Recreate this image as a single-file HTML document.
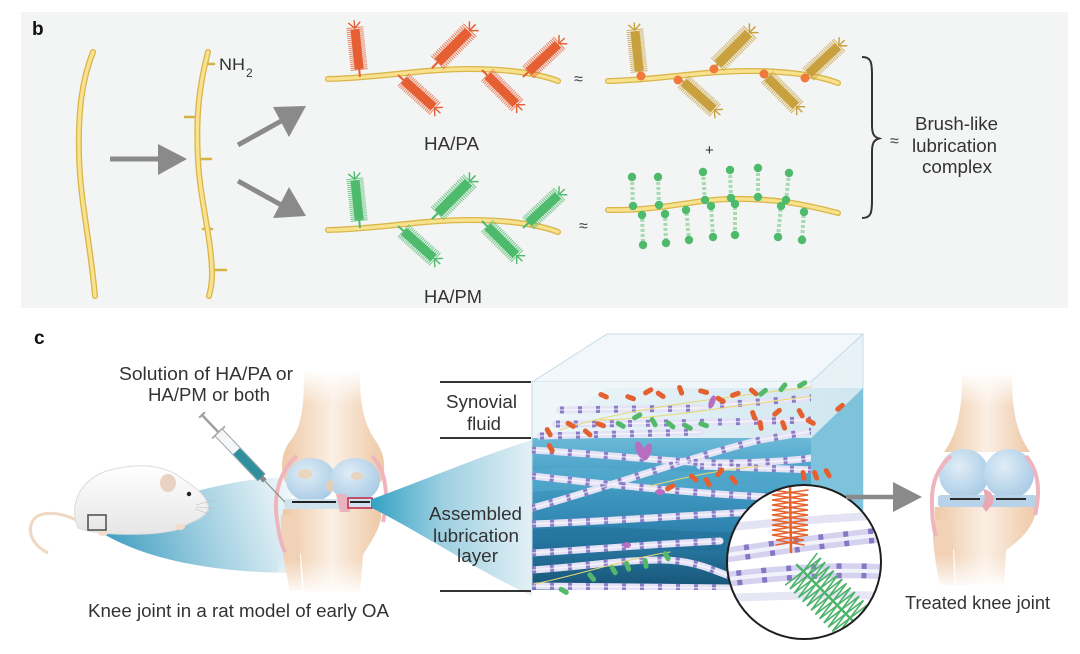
<!DOCTYPE html>
<html><head><meta charset="utf-8"><style>html,body{margin:0;padding:0;background:#fff}svg{display:block}</style></head>
<body>
<svg width="1080" height="654" viewBox="0 0 1080 654" xmlns="http://www.w3.org/2000/svg" font-family="'Liberation Sans', Arial, sans-serif">
<defs>
  <linearGradient id="water" x1="0" y1="0" x2="0" y2="1">
    <stop offset="0" stop-color="#6cb9d7"/><stop offset="0.25" stop-color="#469fc7"/>
    <stop offset="0.65" stop-color="#2b80ab"/><stop offset="1" stop-color="#175276"/>
  </linearGradient>
  <linearGradient id="plane" x1="0" y1="0" x2="1" y2="0">
    <stop offset="0" stop-color="#eef6f9"/><stop offset="1" stop-color="#cfe6ef"/>
  </linearGradient>
  <linearGradient id="funR" x1="372" y1="0" x2="532" y2="0" gradientUnits="userSpaceOnUse">
    <stop offset="0" stop-color="#35a2c4"/><stop offset="0.45" stop-color="#9fd0e2"/><stop offset="1" stop-color="#e2f0f5"/>
  </linearGradient>
  <linearGradient id="funL" x1="110" y1="560" x2="290" y2="500" gradientUnits="userSpaceOnUse">
    <stop offset="0" stop-color="#3f9dc0"/><stop offset="0.5" stop-color="#9ccde0"/><stop offset="1" stop-color="#eef6f9"/>
  </linearGradient>
  <linearGradient id="bone" x1="0" y1="0" x2="1" y2="0">
    <stop offset="0" stop-color="#eec9a6"/><stop offset="0.5" stop-color="#fbefe4"/><stop offset="1" stop-color="#eec9a6"/>
  </linearGradient>
  <linearGradient id="fadeT" x1="0" y1="0" x2="0" y2="1">
    <stop offset="0" stop-color="#fff" stop-opacity="1"/><stop offset="1" stop-color="#fff" stop-opacity="0"/>
  </linearGradient>
  <linearGradient id="fadeB" x1="0" y1="0" x2="0" y2="1">
    <stop offset="0" stop-color="#fff" stop-opacity="0"/><stop offset="1" stop-color="#fff" stop-opacity="1"/>
  </linearGradient>
  <radialGradient id="cart" cx="0.4" cy="0.35" r="0.7">
    <stop offset="0" stop-color="#e0edf7"/><stop offset="1" stop-color="#a6c9e4"/>
  </radialGradient>
  <linearGradient id="ratg" x1="0" y1="0" x2="0" y2="1">
    <stop offset="0" stop-color="#ffffff"/><stop offset="1" stop-color="#e6e6e6"/>
  </linearGradient>
  <clipPath id="front"><rect x="532" y="382" width="279" height="208"/></clipPath>
  <clipPath id="circ"><circle cx="804" cy="562" r="77"/></clipPath>

  <g id="brush">
    <line x1="0" y1="0" x2="0" y2="-8" stroke-width="2"/>
    <line x1="0" y1="-7" x2="0" y2="-50" stroke-width="17" stroke-dasharray="1 1" opacity="0.75"/>
    <line x1="0" y1="-8" x2="0" y2="-48" stroke-width="9"/>
    <path d="M-6,-55 L0,-49 L6,-55 M0,-49 L0,-57" stroke-width="1.4" fill="none"/>
  </g>
  <path id="chainPA" d="M328,79 C380,78 420,69 470,69 C510,69 540,74 558,81"/>

  <path id="f1" d="M560,410 L702,408"/>
  <path id="f2" d="M720,405 L860,394"/>
  <path id="f3" d="M556,424 C650,424 760,421 862,419"/>
  <path id="f4" d="M540,436 L700,432"/>
  <path id="f5" d="M532,450 C600,454 680,463 720,463 C760,463 800,460 811,458"/>
  <path id="f6" d="M532,508 C600,490 680,460 760,440 L830,428"/>
  <path id="f7" d="M532,476 C600,484 700,494 770,497 L840,499"/>
  <path id="f8" d="M700,466 L815,470"/>
  <path id="f9" d="M532,524 C620,521 700,514 760,512"/>
  <path id="f10" d="M532,553 C600,549 640,545 720,541"/>
  <path id="f11" d="M532,570 C590,566 620,560 660,560 C700,560 720,574 740,580"/>
  <path id="f12" d="M532,586 L730,588"/>
</defs>

<rect width="1080" height="654" fill="#fff"/>

<!-- ========== Panel b ========== -->
<rect x="21" y="12" width="1047" height="296" fill="#f3f4f4"/>
<text x="32" y="35" font-size="19" font-weight="bold" fill="#111">b</text>

<g fill="none" stroke-linecap="round">
  <path d="M93,52 C82,80 78,110 79,155 C80,200 90,240 95,296" stroke="#d9b64a" stroke-width="6"/>
  <path d="M93,52 C82,80 78,110 79,155 C80,200 90,240 95,296" stroke="#f8e28e" stroke-width="3.4"/>
  <g stroke="#d4b244" stroke-width="2.5">
    <line x1="204" y1="64" x2="214" y2="64"/>
    <line x1="185" y1="117" x2="198" y2="117"/>
    <line x1="199" y1="159" x2="211" y2="159"/>
    <line x1="203" y1="229" x2="212" y2="229"/>
    <line x1="211" y1="270" x2="226" y2="270"/>
  </g>
  <path d="M208,52 C198,90 196,120 198,160 C200,200 212,240 212,275 C212,285 210,292 209,296" stroke="#d9b64a" stroke-width="6"/>
  <path d="M208,52 C198,90 196,120 198,160 C200,200 212,240 212,275 C212,285 210,292 209,296" stroke="#f8e28e" stroke-width="3.4"/>
</g>
<text x="219" y="70" font-size="17" fill="#333" textLength="26" lengthAdjust="spacingAndGlyphs">NH</text>
<text x="246" y="77" font-size="12" fill="#333">2</text>

<g fill="#8a8a8a" stroke="#8a8a8a">
  <line x1="110" y1="159" x2="162" y2="159" stroke-width="5"/>
  <polygon points="158,144 187,159 158,175" stroke="none"/>
  <line x1="238" y1="145" x2="283" y2="120" stroke-width="5"/>
  <polygon points="273,107 306,106 289,137" stroke="none"/>
  <line x1="238" y1="181" x2="283" y2="206" stroke-width="5"/>
  <polygon points="273,218 306,216 289,187" stroke="none"/>
</g>

<!-- HA/PA chain -->
<g fill="none" stroke-linecap="round">
  <use href="#chainPA" stroke="#d9b64a" stroke-width="6"/>
  <use href="#chainPA" stroke="#f8e28e" stroke-width="3.4"/>
</g>
<g stroke="#e65f33">
  <use href="#brush" transform="translate(360,77) rotate(-6)"/>
  <use href="#brush" transform="translate(398,75) rotate(132)"/>
  <use href="#brush" transform="translate(432,68) rotate(45) scale(1.08)"/>
  <use href="#brush" transform="translate(482,70) rotate(135)"/>
  <use href="#brush" transform="translate(523,77) rotate(47)"/>
</g>
<text x="424" y="150" font-size="18" fill="#333" textLength="55" lengthAdjust="spacingAndGlyphs">HA/PA</text>

<!-- HA/PM chain -->
<g transform="translate(0,151)">
  <g fill="none" stroke-linecap="round">
    <use href="#chainPA" stroke="#d9b64a" stroke-width="6"/>
    <use href="#chainPA" stroke="#f8e28e" stroke-width="3.4"/>
  </g>
  <g stroke="#4dba6c">
    <use href="#brush" transform="translate(360,77) rotate(-6)"/>
    <use href="#brush" transform="translate(398,75) rotate(132)"/>
    <use href="#brush" transform="translate(432,68) rotate(45) scale(1.08)"/>
    <use href="#brush" transform="translate(482,70) rotate(135)"/>
    <use href="#brush" transform="translate(523,77) rotate(47)"/>
  </g>
</g>
<text x="424" y="303" font-size="18" fill="#333" textLength="58" lengthAdjust="spacingAndGlyphs">HA/PM</text>

<text x="574" y="84" font-size="16" fill="#444">≈</text>
<text x="579" y="231" font-size="16" fill="#444">≈</text>
<text x="705" y="155" font-size="15" fill="#333">+</text>

<!-- golden chain -->
<g transform="translate(280,2)">
  <g fill="none" stroke-linecap="round">
    <use href="#chainPA" stroke="#d9b64a" stroke-width="6"/>
    <use href="#chainPA" stroke="#f8e28e" stroke-width="3.4"/>
  </g>
  <g stroke="#c8a03e">
    <use href="#brush" transform="translate(360,77) rotate(-6)"/>
    <use href="#brush" transform="translate(398,75) rotate(132)"/>
    <use href="#brush" transform="translate(432,68) rotate(45) scale(1.08)"/>
    <use href="#brush" transform="translate(482,70) rotate(135)"/>
    <use href="#brush" transform="translate(523,77) rotate(47)"/>
  </g>
  <g fill="#f07a3c">
    <circle cx="361" cy="74" r="4.5"/><circle cx="398" cy="78" r="4.5"/>
    <circle cx="434" cy="67" r="4.5"/><circle cx="484" cy="72" r="4.5"/><circle cx="525" cy="76" r="4.5"/>
  </g>
</g>

<!-- dumbbell chain -->
<g fill="none" stroke-linecap="round">
  <path d="M608,210 C660,211 690,200 730,199 C780,198 810,206 838,213" stroke="#d9b64a" stroke-width="6"/>
  <path d="M608,210 C660,211 690,200 730,199 C780,198 810,206 838,213" stroke="#f8e28e" stroke-width="3.4"/>
</g>
<g stroke="#a6dbb2" stroke-width="4" stroke-dasharray="3 2">
  <line x1="632" y1="177" x2="633" y2="207"/><line x1="658" y1="177" x2="659" y2="206"/>
  <line x1="703" y1="172" x2="705" y2="201"/><line x1="730" y1="170" x2="731" y2="199"/>
  <line x1="758" y1="168" x2="758" y2="198"/><line x1="789" y1="173" x2="786" y2="201"/>
  <line x1="642" y1="214" x2="643" y2="245"/><line x1="665" y1="213" x2="666" y2="243"/>
  <line x1="686" y1="208" x2="689" y2="240"/><line x1="711" y1="204" x2="713" y2="237"/>
  <line x1="735" y1="202" x2="735" y2="235"/><line x1="781" y1="204" x2="778" y2="237"/>
  <line x1="804" y1="210" x2="802" y2="240"/>
</g>
<g fill="#4dba6c">
  <circle cx="632" cy="177" r="4.2"/><circle cx="633" cy="206" r="4.2"/>
  <circle cx="658" cy="177" r="4.2"/><circle cx="659" cy="205" r="4.2"/>
  <circle cx="703" cy="172" r="4.2"/><circle cx="705" cy="200" r="4.2"/>
  <circle cx="730" cy="170" r="4.2"/><circle cx="731" cy="198" r="4.2"/>
  <circle cx="758" cy="168" r="4.2"/><circle cx="758" cy="197" r="4.2"/>
  <circle cx="789" cy="173" r="4.2"/><circle cx="786" cy="200" r="4.2"/>
  <circle cx="642" cy="215" r="4.2"/><circle cx="643" cy="245" r="4.2"/>
  <circle cx="665" cy="214" r="4.2"/><circle cx="666" cy="243" r="4.2"/>
  <circle cx="686" cy="210" r="4.2"/><circle cx="689" cy="240" r="4.2"/>
  <circle cx="711" cy="206" r="4.2"/><circle cx="713" cy="237" r="4.2"/>
  <circle cx="735" cy="204" r="4.2"/><circle cx="735" cy="235" r="4.2"/>
  <circle cx="781" cy="206" r="4.2"/><circle cx="778" cy="237" r="4.2"/>
  <circle cx="804" cy="212" r="4.2"/><circle cx="802" cy="240" r="4.2"/>
</g>

<path d="M862,57 C871,57 872,62 872,75 L872,125 C872,134 874,137 879,138.5 C874,140 872,143 872,152 L872,200 C872,213 871,218 862,218" fill="none" stroke="#333" stroke-width="2"/>
<text x="890" y="146" font-size="16" fill="#444">≈</text>
<text x="915" y="130" font-size="18" fill="#333" textLength="83" lengthAdjust="spacingAndGlyphs">Brush-like</text>
<text x="912" y="152" font-size="18" fill="#333" textLength="85" lengthAdjust="spacingAndGlyphs">lubrication</text>
<text x="922" y="173" font-size="18" fill="#333" textLength="70" lengthAdjust="spacingAndGlyphs">complex</text>

<!-- ========== Panel c ========== -->
<path d="M100,532 C140,556 200,572 292,573 L292,478 C240,474 170,500 100,516 Z" fill="url(#funL)"/>

<!-- rat -->
<path d="M80,522 C60,511 38,510 32,522 C27,534 34,546 48,553" fill="none" stroke="#f0d8c2" stroke-width="3"/>
<path d="M78,528 C68,505 80,478 110,470 C140,462 165,466 180,477 C194,486 206,495 208,505 C210,512 202,518 192,522 L176,530 C150,536 100,536 78,528 Z" fill="url(#ratg)" stroke="#dcdcdc" stroke-width="1"/>
<ellipse cx="168" cy="483" rx="8" ry="9" fill="#ead2c2"/>
<circle cx="189" cy="494" r="2.2" fill="#222"/>
<g stroke="#bbb" stroke-width="0.6">
  <line x1="196" y1="505" x2="214" y2="500"/><line x1="196" y1="507" x2="215" y2="508"/><line x1="195" y1="509" x2="212" y2="515"/>
</g>
<g fill="#f1dccd">
  <ellipse cx="180" cy="527" rx="5" ry="3"/><ellipse cx="103" cy="533" rx="5" ry="3"/>
</g>
<rect x="88" y="515" width="18" height="15" fill="none" stroke="#555" stroke-width="1.6"/>

<!-- left knee -->
<path d="M304,372 L360,372 C360,400 362,420 375,440 C386,455 386,470 381,482 L285,482 C280,468 281,452 291,440 C303,425 304,400 304,372 Z" fill="url(#bone)"/>
<rect x="290" y="370" width="90" height="35" fill="url(#fadeT)"/>
<path d="M283,509 L381,509 C383,526 372,540 363,555 L360,592 L304,592 L301,555 C290,540 281,526 283,509 Z" fill="url(#bone)"/>
<path d="M281,515 C280,540 284,565 290,590 L302,590 C300,565 300,540 298,515 Z" fill="#f1d2b6"/>
<rect x="278" y="560" width="110" height="36" fill="url(#fadeB)"/>
<ellipse cx="311" cy="480" rx="25" ry="22" fill="url(#cart)"/>
<ellipse cx="355" cy="480" rx="25" ry="22" fill="url(#cart)"/>
<g fill="#f0cfae" opacity="0.75">
  <ellipse cx="305" cy="474" rx="7" ry="5"/><ellipse cx="330" cy="486" rx="4" ry="6"/><ellipse cx="357" cy="476" rx="6" ry="4"/>
</g>
<rect x="284" y="499" width="96" height="10" rx="3" fill="#cfe2ee"/>
<line x1="292" y1="502" x2="336" y2="502" stroke="#222" stroke-width="2"/>
<line x1="350" y1="502" x2="370" y2="502" stroke="#222" stroke-width="2"/>
<path d="M336,494 L346,494 L350,512 L340,512 Z" fill="#eab2bc"/>
<path d="M297,456 C280,470 273,495 277,520 C279,536 282,546 285,552" fill="none" stroke="#efb5bf" stroke-width="4"/>
<path d="M372,456 C386,470 389,495 383,522" fill="none" stroke="#efb5bf" stroke-width="4"/>
<rect x="348" y="498" width="24" height="10" fill="none" stroke="#c8304c" stroke-width="1.6"/>

<!-- syringe -->
<g transform="translate(202,415) rotate(46.4)">
  <line x1="0" y1="0" x2="24" y2="0" stroke="#a0a0a0" stroke-width="2.5"/>
  <line x1="0" y1="-4" x2="0" y2="4" stroke="#a0a0a0" stroke-width="2"/>
  <line x1="24" y1="-9" x2="24" y2="9" stroke="#b0b0b0" stroke-width="2"/>
  <rect x="24" y="-5" width="62" height="10" fill="#f4f6f7" stroke="#9aa3a8" stroke-width="1"/>
  <rect x="50" y="-4.5" width="36" height="9" fill="#2f8f9c"/>
  <rect x="86" y="-2.5" width="5" height="5" fill="#888"/>
  <line x1="91" y1="0" x2="120" y2="0" stroke="#888" stroke-width="1.1"/>
</g>

<!-- right funnel -->
<path d="M372,499 C420,482 480,456 532,440 L532,596 C480,572 420,532 372,508 Z" fill="url(#funR)"/>

<g stroke="#333" stroke-width="2">
  <line x1="440" y1="382" x2="531" y2="382"/>
  <line x1="440" y1="438" x2="531" y2="438"/>
  <line x1="440" y1="591" x2="531" y2="591"/>
</g>

<!-- 3D box -->
<polygon points="532,382 607,334 863,334 811,382" fill="#f1f7fa" stroke="#c6dce7" stroke-width="1"/>
<polygon points="811,382 863,334 863,545 811,590" fill="#e8f2f6" stroke="#c6dce7" stroke-width="1"/>
<polygon points="811,438 863,388 863,545 811,590" fill="#7fc2db"/>
<rect x="532" y="382" width="279" height="56" fill="#eef6f9"/>
<rect x="532" y="438" width="279" height="152" fill="url(#water)"/>
<g clip-path="url(#front)">
  <path d="M532,470 C600,462 680,478 811,470 L811,490 C700,498 620,484 532,492 Z" fill="#5aaed0" opacity="0.5"/>
  <path d="M532,530 C620,520 700,540 811,528 L811,548 C700,556 620,542 532,552 Z" fill="#1f6a93" opacity="0.45"/>
</g>
<polygon points="532,438 607,388 863,388 811,438" fill="url(#plane)"/>
<line x1="532" y1="382" x2="532" y2="590" stroke="#c6dce7" stroke-width="1"/>

<g fill="none" stroke-linecap="round" clip-path="url(#front)">
  <g stroke="#e4e3f6" stroke-width="7">
    <use href="#f1"/><use href="#f2"/><use href="#f3"/><use href="#f4"/><use href="#f5"/><use href="#f6"/>
    <use href="#f7"/><use href="#f8"/><use href="#f9"/><use href="#f10"/><use href="#f11"/><use href="#f12"/>
  </g>
  <g stroke="#8a7cc6" stroke-width="7" stroke-dasharray="4 14" stroke-linecap="butt">
    <use href="#f1"/><use href="#f2"/><use href="#f3"/><use href="#f4"/><use href="#f5"/><use href="#f6"/>
    <use href="#f7"/><use href="#f8"/><use href="#f9"/><use href="#f10"/><use href="#f11"/><use href="#f12"/>
  </g>
  <g stroke="#ffffff" stroke-width="1.5" opacity="0.6">
    <use href="#f1"/><use href="#f2"/><use href="#f3"/><use href="#f4"/><use href="#f5"/><use href="#f6"/>
    <use href="#f7"/><use href="#f8"/><use href="#f9"/><use href="#f10"/><use href="#f11"/><use href="#f12"/>
  </g>
  <g stroke="#e8d870" stroke-width="1">
    <path d="M560,430 C620,410 700,400 820,386"/>
    <path d="M600,420 C680,418 760,400 830,395"/>
    <path d="M650,486 C690,476 720,470 760,466"/>
    <path d="M534,584 C580,575 620,560 670,552"/>
  </g>
</g>
<g fill="#e4602e">
  <rect x="598" y="393" width="11" height="5" rx="2.5" transform="rotate(25 603 396)"/>
  <rect x="625" y="395" width="11" height="5" rx="2.5" transform="rotate(20 630 398)"/>
  <rect x="643" y="389" width="11" height="5" rx="2.5" transform="rotate(-30 648 392)"/>
  <rect x="655" y="392" width="11" height="5" rx="2.5" transform="rotate(35 660 395)"/>
  <rect x="675" y="387" width="11" height="5" rx="2.5" transform="rotate(70 680 390)"/>
  <rect x="698" y="389" width="11" height="5" rx="2.5" transform="rotate(15 703 392)"/>
  <rect x="715" y="397" width="11" height="5" rx="2.5" transform="rotate(30 720 400)"/>
  <rect x="730" y="392" width="11" height="5" rx="2.5" transform="rotate(-20 735 395)"/>
  <rect x="748" y="389" width="11" height="5" rx="2.5" transform="rotate(40 753 392)"/>
  <rect x="543" y="429" width="11" height="5" rx="2.5" transform="rotate(60 548 432)"/>
  <rect x="565" y="422" width="11" height="5" rx="2.5" transform="rotate(30 570 425)"/>
  <rect x="582" y="430" width="11" height="5" rx="2.5" transform="rotate(40 587 433)"/>
  <rect x="595" y="422" width="11" height="5" rx="2.5" transform="rotate(20 600 425)"/>
  <rect x="748" y="412" width="11" height="5" rx="2.5" transform="rotate(70 753 415)"/>
  <rect x="772" y="410" width="11" height="5" rx="2.5" transform="rotate(-40 777 413)"/>
  <rect x="795" y="410" width="11" height="5" rx="2.5" transform="rotate(60 800 413)"/>
  <rect x="805" y="419" width="11" height="5" rx="2.5" transform="rotate(30 810 422)"/>
  <rect x="835" y="405" width="11" height="5" rx="2.5" transform="rotate(-40 840 408)"/>
  <rect x="755" y="422" width="11" height="5" rx="2.5" transform="rotate(80 760 425)"/>
  <rect x="778" y="422" width="11" height="5" rx="2.5" transform="rotate(70 783 425)"/>
  <rect x="545" y="445" width="11" height="5" rx="2.5" transform="rotate(60 550 448)"/>
  <rect x="665" y="485" width="11" height="5" rx="2.5" transform="rotate(-30 670 488)"/>
  <rect x="688" y="475" width="11" height="5" rx="2.5" transform="rotate(40 693 478)"/>
  <rect x="702" y="479" width="11" height="5" rx="2.5" transform="rotate(60 707 482)"/>
  <rect x="715" y="470" width="11" height="5" rx="2.5" transform="rotate(-50 720 473)"/>
  <rect x="728" y="477" width="11" height="5" rx="2.5" transform="rotate(50 733 480)"/>
  <rect x="798" y="472" width="11" height="5" rx="2.5" transform="rotate(80 803 475)"/>
  <rect x="810" y="472" width="11" height="5" rx="2.5" transform="rotate(70 815 475)"/>
  <rect x="822" y="470" width="11" height="5" rx="2.5" transform="rotate(60 827 473)"/>
</g>
<g fill="#52b86a">
  <rect x="758" y="390" width="11" height="5" rx="2.5" transform="rotate(-40 763 393)"/>
  <rect x="778" y="385" width="11" height="5" rx="2.5" transform="rotate(-50 783 388)"/>
  <rect x="797" y="382" width="11" height="5" rx="2.5" transform="rotate(-30 802 385)"/>
  <rect x="615" y="422" width="11" height="5" rx="2.5" transform="rotate(30 620 425)"/>
  <rect x="632" y="414" width="11" height="5" rx="2.5" transform="rotate(-30 637 417)"/>
  <rect x="648" y="419" width="11" height="5" rx="2.5" transform="rotate(60 653 422)"/>
  <rect x="665" y="422" width="11" height="5" rx="2.5" transform="rotate(40 670 425)"/>
  <rect x="682" y="424" width="11" height="5" rx="2.5" transform="rotate(30 687 427)"/>
  <rect x="698" y="422" width="11" height="5" rx="2.5" transform="rotate(20 703 425)"/>
  <rect x="558" y="588" width="11" height="5" rx="2.5" transform="rotate(30 563 591)"/>
  <rect x="586" y="574" width="11" height="5" rx="2.5" transform="rotate(50 591 577)"/>
  <rect x="608" y="567" width="11" height="5" rx="2.5" transform="rotate(60 613 570)"/>
  <rect x="622" y="563" width="11" height="5" rx="2.5" transform="rotate(70 627 566)"/>
  <rect x="640" y="560" width="11" height="5" rx="2.5" transform="rotate(80 645 563)"/>
  <rect x="661" y="553" width="11" height="5" rx="2.5" transform="rotate(60 666 556)"/>
</g>
<g fill="#b86ec0">
  <ellipse cx="640" cy="450" rx="4" ry="9" transform="rotate(-20 640 450)"/>
  <ellipse cx="647" cy="452" rx="4" ry="9" transform="rotate(20 647 452)"/>
  <ellipse cx="660" cy="492" rx="5" ry="3"/>
  <ellipse cx="627" cy="545" rx="4" ry="3"/>
  <ellipse cx="712" cy="402" rx="3" ry="7" transform="rotate(20 712 402)"/>
</g>

<!-- magnifier circle -->
<circle cx="804" cy="562" r="77" fill="#ffffff"/>
<g clip-path="url(#circ)" fill="none" stroke-linecap="round">
  <path d="M720,528 C780,522 830,518 890,515" stroke="#e3e3f4" stroke-width="8"/>
  <path d="M720,598 C780,596 830,594 890,596" stroke="#e6e6f5" stroke-width="8"/>
  <path d="M720,556 C760,550 820,541 890,534" stroke="#d4d2ef" stroke-width="15"/>
  <path d="M720,556 C760,550 820,541 890,534" stroke="#8677c4" stroke-width="15" stroke-dasharray="5 20" stroke-linecap="butt"/>
  <path d="M720,556 C760,550 820,541 890,534" stroke="#f2f2fb" stroke-width="4"/>
  <path d="M720,580 C770,574 830,568 890,572" stroke="#d4d2ef" stroke-width="15"/>
  <path d="M720,580 C770,574 830,568 890,572" stroke="#8677c4" stroke-width="15" stroke-dasharray="5 20" stroke-dashoffset="8" stroke-linecap="butt"/>
  <path d="M720,580 C770,574 830,568 890,572" stroke="#f2f2fb" stroke-width="4"/>
  <g stroke="#e6632e" stroke-width="1.6">
    <polyline points="772,490 808,495 772,500 808,505 772,510 808,515 772,520 808,525 772,530 808,535 776,540 804,545"/>
    <polyline points="808,490 772,495 808,500 772,505 808,510 772,515 808,520 772,525 808,530 772,535 804,540 776,545"/>
    <line x1="790" y1="486" x2="791" y2="552" stroke-width="2.5"/>
  </g>
  <g stroke="#4cb46a" stroke-width="1.6" transform="translate(838,606) rotate(-45)">
    <polyline points="-22,-52 22,-46 -22,-40 22,-34 -22,-28 22,-22 -22,-16 22,-10 -22,-4 22,2 -22,8 22,14 -22,20 22,26 -22,32 22,38 -22,44 22,50"/>
    <polyline points="22,-52 -22,-46 22,-40 -22,-34 22,-28 -22,-22 22,-16 -22,-10 22,-4 -22,2 22,8 -22,14 22,20 -22,26 22,32 -22,38 22,44 -22,50"/>
    <line x1="0" y1="-58" x2="0" y2="55" stroke-width="2.5"/>
  </g>
</g>
<circle cx="804" cy="562" r="77" fill="none" stroke="#1e1e1e" stroke-width="2"/>

<!-- arrow to treated knee -->
<line x1="846" y1="497" x2="897" y2="497" stroke="#8a8a8a" stroke-width="4.5"/>
<polygon points="893,482 922,497 893,512" fill="#8a8a8a"/>

<!-- right knee -->
<path d="M962,375 L1012,375 C1012,410 1016,432 1030,452 L944,452 C958,432 962,410 962,375 Z" fill="url(#bone)"/>
<rect x="940" y="372" width="95" height="35" fill="url(#fadeT)"/>
<path d="M935,507 L1036,507 C1036,525 1021,540 1006,550 L1004,585 L956,585 L954,550 C941,540 933,525 935,507 Z" fill="url(#bone)"/>
<path d="M933,520 C932,545 936,565 940,585 L955,585 C953,560 953,540 951,520 Z" fill="#f1d2b6"/>
<rect x="928" y="555" width="115" height="35" fill="url(#fadeB)"/>
<ellipse cx="964" cy="474" rx="25" ry="25" fill="url(#cart)"/>
<ellipse cx="1009" cy="474" rx="25" ry="25" fill="url(#cart)"/>
<rect x="938" y="495" width="99" height="12" rx="3" fill="#b7d3ea"/>
<line x1="950" y1="499" x2="980" y2="499" stroke="#2a2a2a" stroke-width="2"/>
<line x1="996" y1="499" x2="1026" y2="499" stroke="#2a2a2a" stroke-width="2"/>
<path d="M983,489 C992,490 996,498 992,505 L986,512 L982,506 C986,500 985,495 983,489 Z" fill="#eaa8b4"/>
<path d="M951,456 C937,468 931,485 932,505 C932,520 934,530 936,536" fill="none" stroke="#efb5bf" stroke-width="4"/>
<path d="M1026,456 C1038,470 1041,490 1035,515" fill="none" stroke="#efb5bf" stroke-width="4"/>

<!-- panel c labels -->
<text x="34" y="344" font-size="19" font-weight="bold" fill="#111">c</text>
<text x="119" y="380" font-size="18" fill="#333" textLength="174" lengthAdjust="spacingAndGlyphs">Solution of HA/PA or</text>
<text x="148" y="401" font-size="18" fill="#333" textLength="122" lengthAdjust="spacingAndGlyphs">HA/PM or both</text>
<text x="446" y="408" font-size="18" fill="#333" textLength="71" lengthAdjust="spacingAndGlyphs">Synovial</text>
<text x="467" y="430" font-size="18" fill="#333" textLength="34" lengthAdjust="spacingAndGlyphs">fluid</text>
<text x="429" y="520" font-size="18" fill="#333" textLength="93" lengthAdjust="spacingAndGlyphs">Assembled</text>
<text x="433" y="542" font-size="18" fill="#333" textLength="86" lengthAdjust="spacingAndGlyphs">lubrication</text>
<text x="457" y="562" font-size="18" fill="#333" textLength="41" lengthAdjust="spacingAndGlyphs">layer</text>
<text x="88" y="617" font-size="18" fill="#333" textLength="301" lengthAdjust="spacingAndGlyphs">Knee joint in a rat model of early OA</text>
<text x="905" y="609" font-size="18" fill="#333" textLength="145" lengthAdjust="spacingAndGlyphs">Treated knee joint</text>
</svg>
</body></html>
